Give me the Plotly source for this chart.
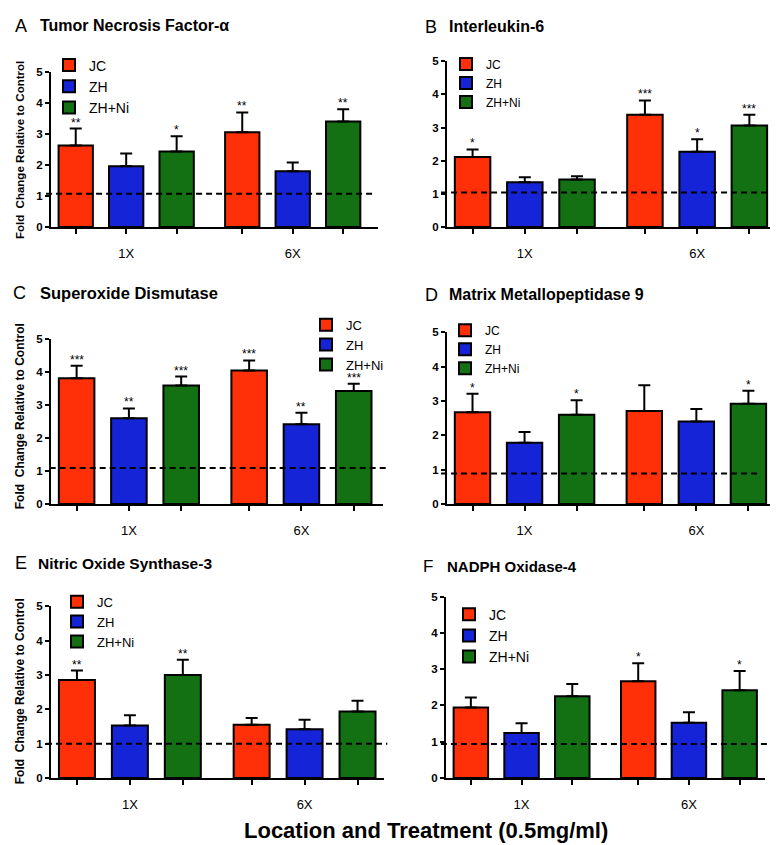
import plotly.graph_objects as go

# ---------------- data ----------------
GROUPS = ["1X", "6X"]
SERIES = ["JC", "ZH", "ZH+Ni"]
PANEL_LETTERS = ["A", "B", "C", "D", "E", "F"]
PANEL_TITLES = ["Tumor Necrosis Factor-α", "Interleukin-6", "Superoxide Dismutase",
                "Matrix Metallopeptidase 9", "Nitric Oxide Synthase-3", "NADPH Oxidase-4"]
Y_TICKS = [0, 1, 2, 3, 4, 5]
Y_TITLE = "Fold  Change Relative to Control"
X_TITLE = "Location and Treatment (0.5mg/ml)"

# A  Tumor Necrosis Factor-alpha
TNF_JC = [2.63, 3.06];   TNF_JC_ERR = [0.55, 0.64];   TNF_JC_SIG = ["**", "**"]
TNF_ZH = [1.96, 1.80];   TNF_ZH_ERR = [0.41, 0.28];   TNF_ZH_SIG = ["", ""]
TNF_ZHNI = [2.44, 3.41]; TNF_ZHNI_ERR = [0.49, 0.39]; TNF_ZHNI_SIG = ["*", "**"]
TNF_CONTROL = 1.07

# B  Interleukin-6
IL6_JC = [2.11, 3.39];   IL6_JC_ERR = [0.23, 0.43];   IL6_JC_SIG = ["*", "***"]
IL6_ZH = [1.35, 2.27];   IL6_ZH_ERR = [0.15, 0.38];   IL6_ZH_SIG = ["", "*"]
IL6_ZHNI = [1.43, 3.06]; IL6_ZHNI_ERR = [0.10, 0.33]; IL6_ZHNI_SIG = ["", "***"]
IL6_CONTROL = 1.04

# C  Superoxide Dismutase
SOD_JC = [3.82, 4.05];   SOD_JC_ERR = [0.38, 0.31];   SOD_JC_SIG = ["***", "***"]
SOD_ZH = [2.60, 2.42];   SOD_ZH_ERR = [0.30, 0.35];   SOD_ZH_SIG = ["**", "**"]
SOD_ZHNI = [3.60, 3.43]; SOD_ZHNI_ERR = [0.27, 0.22]; SOD_ZHNI_SIG = ["***", "***"]
SOD_CONTROL = 1.09

# D  Matrix Metallopeptidase 9
MMP_JC = [2.67, 2.71];   MMP_JC_ERR = [0.54, 0.75];   MMP_JC_SIG = ["*", ""]
MMP_ZH = [1.78, 2.40];   MMP_ZH_ERR = [0.32, 0.37];   MMP_ZH_SIG = ["", ""]
MMP_ZHNI = [2.60, 2.92]; MMP_ZHNI_ERR = [0.42, 0.38]; MMP_ZHNI_SIG = ["*", "*"]
MMP_CONTROL = 0.885

# E  Nitric Oxide Synthase-3
NOS_JC = [2.86, 1.55];   NOS_JC_ERR = [0.27, 0.20];   NOS_JC_SIG = ["**", ""]
NOS_ZH = [1.53, 1.42];   NOS_ZH_ERR = [0.30, 0.28];   NOS_ZH_SIG = ["", ""]
NOS_ZHNI = [3.00, 1.94]; NOS_ZHNI_ERR = [0.45, 0.31]; NOS_ZHNI_SIG = ["**", ""]
NOS_CONTROL = 1.00

# F  NADPH Oxidase-4
NOX_JC = [1.94, 2.67];   NOX_JC_ERR = [0.28, 0.49];   NOX_JC_SIG = ["", "*"]
NOX_ZH = [1.24, 1.52];   NOX_ZH_ERR = [0.27, 0.29];   NOX_ZH_SIG = ["", ""]
NOX_ZHNI = [2.25, 2.42]; NOX_ZHNI_ERR = [0.34, 0.53]; NOX_ZHNI_SIG = ["", "*"]
NOX_CONTROL = 0.94

PANELS = [
    ([TNF_JC, TNF_ZH, TNF_ZHNI], [TNF_JC_ERR, TNF_ZH_ERR, TNF_ZHNI_ERR], [TNF_JC_SIG, TNF_ZH_SIG, TNF_ZHNI_SIG], TNF_CONTROL),
    ([IL6_JC, IL6_ZH, IL6_ZHNI], [IL6_JC_ERR, IL6_ZH_ERR, IL6_ZHNI_ERR], [IL6_JC_SIG, IL6_ZH_SIG, IL6_ZHNI_SIG], IL6_CONTROL),
    ([SOD_JC, SOD_ZH, SOD_ZHNI], [SOD_JC_ERR, SOD_ZH_ERR, SOD_ZHNI_ERR], [SOD_JC_SIG, SOD_ZH_SIG, SOD_ZHNI_SIG], SOD_CONTROL),
    ([MMP_JC, MMP_ZH, MMP_ZHNI], [MMP_JC_ERR, MMP_ZH_ERR, MMP_ZHNI_ERR], [MMP_JC_SIG, MMP_ZH_SIG, MMP_ZHNI_SIG], MMP_CONTROL),
    ([NOS_JC, NOS_ZH, NOS_ZHNI], [NOS_JC_ERR, NOS_ZH_ERR, NOS_ZHNI_ERR], [NOS_JC_SIG, NOS_ZH_SIG, NOS_ZHNI_SIG], NOS_CONTROL),
    ([NOX_JC, NOX_ZH, NOX_ZHNI], [NOX_JC_ERR, NOX_ZH_ERR, NOX_ZHNI_ERR], [NOX_JC_SIG, NOX_ZH_SIG, NOX_ZHNI_SIG], NOX_CONTROL),
]

# ---------------- style ----------------
W, H = 778, 845
COLORS = ["#FF3008", "#1624D8", "#137013"]
FONT = "Liberation Sans, Arial, Helvetica, sans-serif"
GROUP_STEP = 3.3
BAR_WIDTH = 0.68


def px(x):
    return x / W


def py(y):
    return 1 - y / H


# plot box in pixels (left, right, top, bottom), x range right end
STYLE = [
    dict(box=(43, 370, 59, 216), xr=5.99, leg=(41, 36, 14), dash=(-0.015, 0.985),
         letter=(5, 12, 18), title=(30, 12, 16), ytitle=(12, 138, 11.5)),
    dict(box=(439, 768, 48, 216), xr=5.81, leg=(438, 36, 12), dash=(-0.018, 1.01),
         letter=(415, 13, 18), title=(439, 13, 16), ytitle=None),
    dict(box=(43, 375, 330, 497), xr=5.86, leg=(298, 300, 13), dash=(-0.004, 1.01),
         letter=(3, 283, 18), title=(30, 283, 16.5), ytitle=(12, 408, 12)),
    dict(box=(439, 768, 323, 497), xr=5.83, leg=(437, 306, 12), dash=(-0.018, 0.945),
         letter=(415, 285, 18), title=(439, 285, 16), ytitle=None),
    dict(box=(43, 376, 601, 775), xr=5.80, leg=(49, 581, 13), dash=(-0.015, 1.01),
         letter=(5, 557, 18), title=(28, 557, 15.5), ytitle=(12, 687, 12)),
    dict(box=(438, 757, 591, 775), xr=5.80, leg=(441, 593, 14), dash=(-0.016, 1.025),
         letter=(413, 560, 17), title=(437, 560, 15), ytitle=None),
]

fig = go.Figure()
annotations = []
shapes = []
layout_axes = {}

for p, ((vals, errs, sigs, control), st) in enumerate(zip(PANELS, STYLE)):
    n = p + 1
    xa = "x" if n == 1 else f"x{n}"
    ya = "y" if n == 1 else f"y{n}"
    leg = "legend" if n == 1 else f"legend{n}"
    positions_all = []
    for s, name in enumerate(SERIES):
        xs = [g * GROUP_STEP + s for g in range(len(GROUPS))]
        positions_all += xs
        fig.add_trace(go.Bar(
            x=xs, y=vals[s], name=name, xaxis=xa, yaxis=ya, legend=leg,
            width=BAR_WIDTH,
            marker=dict(color=COLORS[s], line=dict(color="black", width=2)),
            error_y=dict(type="data", array=errs[s], arrayminus=[0] * len(errs[s]),
                         symmetric=False, color="black", thickness=2, width=6),
            cliponaxis=False, showlegend=True,
        ))
        for g in range(len(GROUPS)):
            if sigs[s][g]:
                annotations.append(dict(
                    x=xs[g], y=vals[s][g] + errs[s][g], xref=xa, yref=ya,
                    text=sigs[s][g], showarrow=False, yanchor="bottom", yshift=-3,
                    font=dict(family=FONT, size=12, color="black")))
    positions_all.sort()
    ticktext = []
    for i, v in enumerate(positions_all):
        g, s = divmod(i, len(SERIES))
        ticktext.append(GROUPS[g] if s == 1 else "")

    l, r, t, b = st["box"]
    axkey = "xaxis" if n == 1 else f"xaxis{n}"
    aykey = "yaxis" if n == 1 else f"yaxis{n}"
    layout_axes[axkey] = dict(
        domain=[px(l), px(r)], range=[-0.49, st["xr"]], anchor=ya,
        showline=True, linecolor="black", linewidth=2, mirror=False,
        showgrid=False, zeroline=False, ticks="outside", ticklen=5, tickwidth=2,
        tickcolor="black", tickvals=positions_all, ticktext=ticktext,
        ticklabelstandoff=8,
        tickfont=dict(family=FONT, size=13, color="black"), fixedrange=True)
    layout_axes[aykey] = dict(
        domain=[py(b), py(t)], range=[0, 5], anchor=xa,
        showline=True, linecolor="black", linewidth=2,
        showgrid=False, zeroline=False, ticks="outside", ticklen=4, tickwidth=2,
        tickcolor="black", tickvals=Y_TICKS,
        tickfont=dict(family=FONT, size=11.5, color="black", weight="bold"), fixedrange=True)

    # control reference line
    shapes.append(dict(type="line", xref=f"{xa} domain", yref=ya,
                       x0=st["dash"][0], x1=st["dash"][1], y0=control, y1=control,
                       line=dict(color="black", width=2, dash="6px,4px")))

    # legend
    lx, ly, lf = st["leg"]
    layout_axes[leg] = dict(x=px(lx), y=py(ly), xanchor="left", yanchor="top",
                            bgcolor="rgba(0,0,0,0)", tracegroupgap=0,
                            font=dict(family=FONT, size=lf, color="black"))

    # panel letter and title
    lx2, ly2, lsz = st["letter"]
    annotations.append(dict(x=px(lx2), y=py(ly2), xref="paper", yref="paper",
                            xanchor="left", yanchor="middle", showarrow=False,
                            text=PANEL_LETTERS[p],
                            font=dict(family=FONT, size=lsz, color="black")))
    tx, ty, tsz = st["title"]
    annotations.append(dict(x=px(tx), y=py(ty), xref="paper", yref="paper",
                            xanchor="left", yanchor="middle", showarrow=False,
                            text=f"<b>{PANEL_TITLES[p]}</b>",
                            font=dict(family=FONT, size=tsz, color="black")))
    if st["ytitle"]:
        yx, yy, ysz = st["ytitle"]
        annotations.append(dict(x=px(yx), y=py(yy), xref="paper", yref="paper",
                                xanchor="center", yanchor="middle", showarrow=False,
                                textangle=-90, text=f"<b>{Y_TITLE}</b>",
                                font=dict(family=FONT, size=ysz, color="black")))

annotations.append(dict(x=px(418), y=py(828), xref="paper", yref="paper",
                        xanchor="center", yanchor="middle", showarrow=False,
                        text=f"<b>{X_TITLE}</b>",
                        font=dict(family=FONT, size=22, color="black")))

fig.update_layout(
    width=W, height=H, margin=dict(l=0, r=0, t=0, b=0),
    paper_bgcolor="white", plot_bgcolor="white",
    barmode="overlay", annotations=annotations, shapes=shapes,
    **layout_axes,
)

fig.write_html("out.html")
